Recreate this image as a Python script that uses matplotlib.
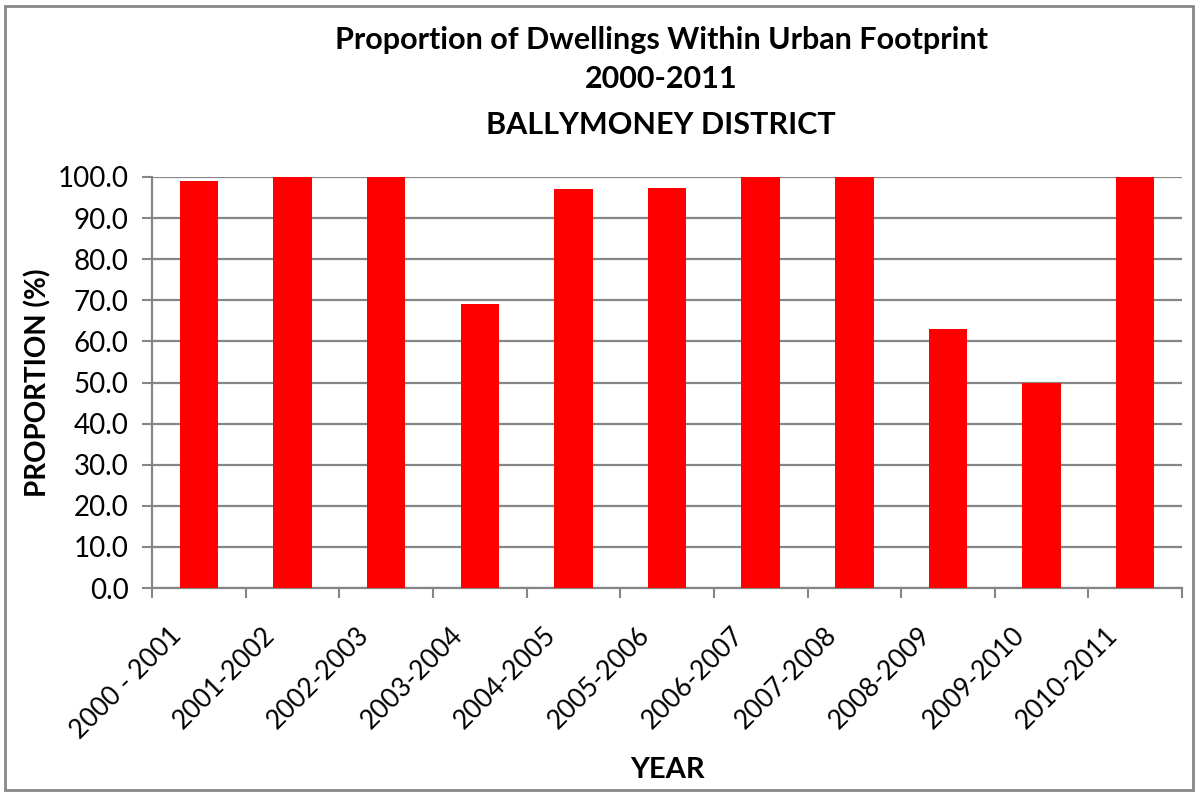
import matplotlib
matplotlib.use("Agg")
import matplotlib.pyplot as plt
from matplotlib.patches import Rectangle
from matplotlib.transforms import ScaledTranslation
import numpy as np

years = ["2000 - 2001", "2001-2002", "2002-2003", "2003-2004", "2004-2005",
         "2005-2006", "2006-2007", "2007-2008", "2008-2009", "2009-2010",
         "2010-2011"]
proportion = [99.1, 100.0, 100.0, 69.2, 97.2, 97.4, 100.0, 100.0, 62.9, 50.0, 100.0]
y_ticks = np.arange(0, 101, 10)

plt.rcParams['font.family'] = ['Lato', 'DejaVu Sans']
grey = '#868686'

fig = plt.figure(figsize=(11.98, 7.93), dpi=100)
ax = fig.add_axes([0.1269, 0.2585, 0.8598, 0.5183])

x = np.arange(len(years))
ax.bar(x, proportion, width=0.41, color='#ff0000', zorder=3)

ax.set_xlim(-0.5, len(years) - 0.5)
ax.set_ylim(0, 100)
ax.set_yticks(y_ticks)
ax.set_yticklabels([f'{v:.1f}' for v in y_ticks], fontsize=20)
ax.yaxis.grid(True, color=grey, linewidth=1.6, zorder=0)

ax.set_xticks(x)
ax.set_xticklabels(years, rotation=45, ha='right', rotation_mode='anchor', fontsize=19)
ax.set_xticks(np.arange(-0.5, len(years)), minor=True)
ax.tick_params(axis='x', which='major', length=0, pad=25)
ax.tick_params(axis='x', which='minor', length=7, width=1.5, color=grey)
ax.tick_params(axis='y', length=7, width=1.5, color=grey, pad=10)
# nudge the slanted labels left, like the original
shift = ScaledTranslation(-0.30, 0, fig.dpi_scale_trans)
for lbl in ax.get_xticklabels():
    lbl.set_transform(lbl.get_transform() + shift)

for s in ['top', 'right']:
    ax.spines[s].set_visible(False)
for s in ['left', 'bottom']:
    ax.spines[s].set_color(grey)
    ax.spines[s].set_linewidth(1.6)

ax.set_ylabel('PROPORTION (%)', fontsize=20, fontweight='bold', labelpad=4)
ax.set_xlabel('YEAR', fontsize=21, fontweight='bold')
ax.xaxis.set_label_coords(0.5, -0.41)

fig.text(0.552, 0.949, 'Proportion of Dwellings Within Urban Footprint', ha='center', va='center',
         fontsize=22, fontweight='bold')
fig.text(0.552, 0.900, '2000-2011', ha='center', va='center', fontsize=22, fontweight='bold')
fig.text(0.552, 0.843, 'BALLYMONEY DISTRICT', ha='center', va='center', fontsize=22, fontweight='bold')

fig.patches.append(Rectangle((0.004, 0.004), 0.992, 0.988, transform=fig.transFigure,
                             fill=False, edgecolor=grey, linewidth=2))

fig.savefig('out.png', dpi=100)
